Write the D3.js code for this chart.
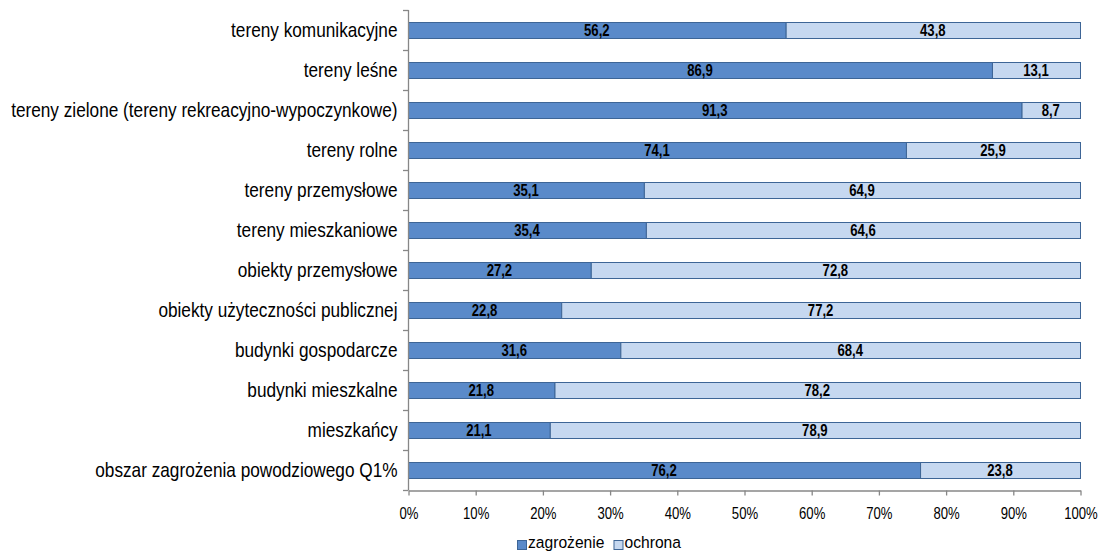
<!DOCTYPE html>
<html>
<head>
<meta charset="utf-8">
<script src="https://cdn.jsdelivr.net/npm/d3@7"></script>
<style>
  html, body { margin: 0; padding: 0; background: #fff; }
  svg { display: block; }
  text { font-family: "Liberation Sans", Arial, sans-serif; }
</style>
</head>
<body>
<svg id="chart" width="1101" height="554"></svg>
<script>
// Share of each category: threatened vs protected (percent)
const categories = [
  "tereny komunikacyjne",
  "tereny leśne",
  "tereny zielone (tereny rekreacyjno-wypoczynkowe)",
  "tereny rolne",
  "tereny przemysłowe",
  "tereny mieszkaniowe",
  "obiekty przemysłowe",
  "obiekty użyteczności publicznej",
  "budynki gospodarcze",
  "budynki mieszkalne",
  "mieszkańcy",
  "obszar zagrożenia powodziowego Q1%"
];
const zagrozenie = [56.2, 86.9, 91.3, 74.1, 35.1, 35.4, 27.2, 22.8, 31.6, 21.8, 21.1, 76.2];
const ochrona    = [43.8, 13.1, 8.7, 25.9, 64.9, 64.6, 72.8, 77.2, 68.4, 78.2, 78.9, 23.8];
const seriesNames = ["zagrożenie", "ochrona"];
const tickValues = [0, 10, 20, 30, 40, 50, 60, 70, 80, 90, 100];

const colors = ["#5A8AC9", "#C6D8F0"];
const stroke = "#3D6596";
const NARROW = 0.82; // horizontal squeeze giving a condensed face

// squeeze a text element horizontally around its parent origin
function narrow(sel, s = NARROW) {
  sel.each(function () {
    const t = d3.select(this);
    const x0 = +t.attr("x") || 0;
    t.attr("x", x0 / s).attr("transform", `scale(${s},1)`);
  });
}

const svg = d3.select("#chart");
const margin = { left: 408, right: 21, top: 10, bottom: 64 };
const W = 1101, H = 554;

const x = d3.scaleLinear().domain([0, 100]).range([margin.left, W - margin.right]);
const y = d3.scaleBand().domain(categories).range([margin.top, H - margin.bottom]).paddingInner(0.6).paddingOuter(0.3);

const stackData = categories.map((c, i) => ({ cat: c, zagrozenie: zagrozenie[i], ochrona: ochrona[i] }));
const stack = d3.stack().keys(["zagrozenie", "ochrona"])(stackData);

// Bars
const g = svg.append("g");
stack.forEach((layer, si) => {
  g.selectAll(null).data(layer).enter().append("rect")
    .attr("x", d => x(d[0]) + 0.5)
    .attr("y", d => Math.round(y(d.data.cat)) + 0.5)
    .attr("width", d => x(d[1]) - x(d[0]))
    .attr("height", Math.round(y.bandwidth()))
    .attr("fill", colors[si])
    .attr("stroke", stroke)
    .attr("stroke-width", 1);
});

// Value labels
stack.forEach((layer) => {
  g.selectAll(null).data(layer).enter().append("text")
    .attr("x", d => (x(d[0]) + x(d[1])) / 2)
    .attr("y", d => y(d.data.cat) + y.bandwidth() / 2 + 1)
    .attr("text-anchor", "middle")
    .attr("dominant-baseline", "central")
    .attr("font-size", 16)
    .attr("font-weight", "bold")
    .attr("fill", "#000")
    .text(d => (d[1] - d[0]).toFixed(1).replace(".", ","))
    .call(narrow);
});

// Y axis (category labels)
const yAxis = d3.axisLeft(y).tickSize(0).tickPadding(11);
const ya = svg.append("g").attr("transform", `translate(${margin.left + 0.5},0)`).call(yAxis);
ya.select(".domain").remove();
ya.selectAll("text").attr("font-size", 21).attr("fill", "#000")
  .attr("dy", "0.35em").call(narrow);

// axis line and band-boundary ticks
const gray = "#878787";
svg.append("line").attr("x1", margin.left + 0.5).attr("x2", margin.left + 0.5)
  .attr("y1", margin.top).attr("y2", H - margin.bottom).attr("stroke", gray).attr("stroke-width", 1.3);
const step = y.step();
d3.range(categories.length + 1).forEach(i => {
  const yy = Math.round(margin.top + i * step) + 0.5;
  svg.append("line").attr("x1", margin.left - 5).attr("x2", margin.left + 0.5)
    .attr("y1", yy).attr("y2", yy).attr("stroke", gray).attr("stroke-width", 1.3);
});

// X axis
const xAxis = d3.axisBottom(x).tickValues(tickValues).tickSize(5).tickPadding(12).tickFormat(d => d + "%").tickSizeOuter(0);
const xa = svg.append("g").attr("transform", `translate(0.5,${H - margin.bottom + 0.5})`).call(xAxis);
xa.select(".domain").attr("stroke", gray).attr("stroke-width", 1.3);
xa.selectAll(".tick line").attr("stroke", gray).attr("stroke-width", 1.3);
xa.selectAll("text").attr("font-size", 16).attr("fill", "#000").call(narrow);

// Legend
const LEG = 0.92;
const legend = svg.append("g").attr("transform", "translate(517,548)");
let lx = 0;
seriesNames.forEach((name, i) => {
  legend.append("rect").attr("x", lx + 0.5).attr("y", -7.5).attr("width", 9).attr("height", 9)
    .attr("fill", colors[i]).attr("stroke", stroke).attr("stroke-width", 1);
  const t = legend.append("text").attr("x", lx + 11).attr("y", 0)
    .attr("font-size", 17).attr("fill", "#000").text(name)
    .call(narrow, LEG);
  lx += 11 + t.node().getComputedTextLength() * LEG + 9;
});
</script>
</body>
</html>
